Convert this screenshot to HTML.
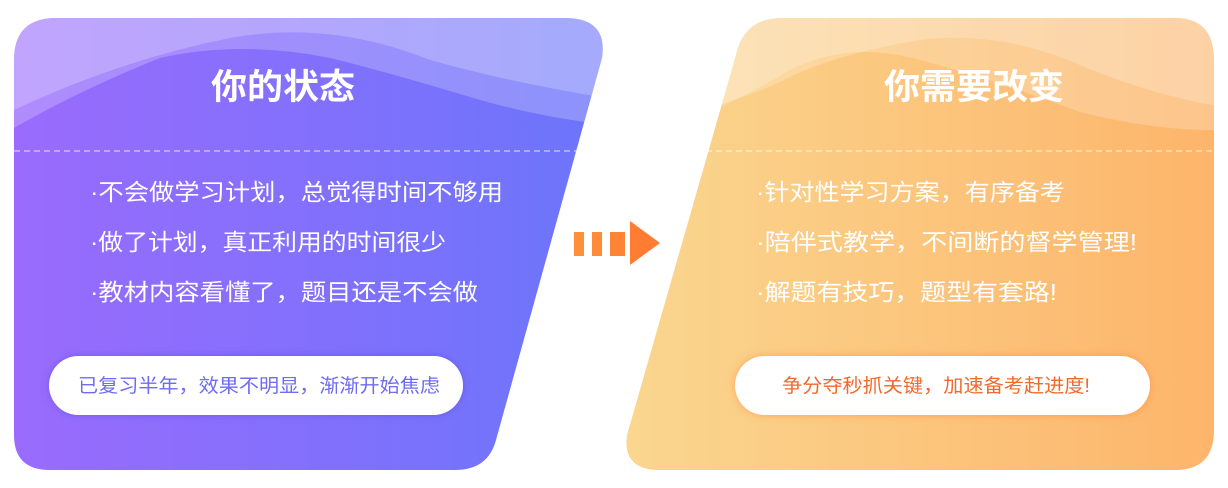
<!DOCTYPE html>
<html><head><meta charset="utf-8"><style>
html,body{margin:0;padding:0;background:#fff;width:1228px;height:488px;overflow:hidden;}
svg{display:block}
text{font-family:"Liberation Sans","Noto Sans CJK SC",sans-serif;}
</style></head><body>
<svg width="1228" height="488" viewBox="0 0 1228 488">
<defs>
<linearGradient id="gl" x1="0" x2="1" y1="0" y2="0"><stop offset="0" stop-color="#9b6bfd"/><stop offset="1" stop-color="#6a75fb"/></linearGradient>
<linearGradient id="gr" x1="0" x2="1" y1="0" y2="0"><stop offset="0" stop-color="#fad790"/><stop offset="1" stop-color="#fdb46a"/></linearGradient>
<clipPath id="cl"><path d="M14,60 Q14,18 56,18 L565,18 Q608,18 602,58 L496,440 Q488,470 455,470 L50,470 Q14,470 14,435 Z"/></clipPath>
<clipPath id="cr"><path d="M736,55 Q744,18 782,18 L1175,18 Q1214,18 1214,60 L1214,430 Q1214,470 1175,470 L660,470 Q622,470 627,435 Z"/></clipPath>
<filter id="sh" x="-10%" y="-30%" width="120%" height="160%"><feDropShadow dx="0" dy="0" stdDeviation="4" flood-color="#5b4de0" flood-opacity="0.6"/></filter>
<filter id="sh2" x="-10%" y="-30%" width="120%" height="160%"><feDropShadow dx="0" dy="0" stdDeviation="4" flood-color="#ff7a30" flood-opacity="0.5"/></filter>
</defs>
<g clip-path="url(#cl)">
<rect x="0" y="0" width="620" height="488" fill="url(#gl)"/>
<path d="M0,18 L620,18 L620,125 Q560,122 480,100 Q380,70 330,58 Q240,40 160,58 Q80,90 14,128 L0,130 Z" fill="#fff" opacity="0.22"/>
<path d="M0,18 L620,18 L620,100 Q520,85 430,60 Q330,20 230,38 Q120,60 14,110 L0,110 Z" fill="#fff" opacity="0.22"/>
</g>
<g clip-path="url(#cr)">
<rect x="610" y="0" width="618" height="488" fill="url(#gr)"/>
<path d="M700,18 L1228,18 L1228,130 Q1160,132 1080,112 Q980,75 920,60 Q850,40 790,70 Q740,100 700,115 Z" fill="#fff" opacity="0.22"/>
<path d="M700,18 L1228,18 L1228,108 Q1150,95 1080,65 Q1000,30 920,40 Q830,55 780,82 Q740,100 700,110 Z" fill="#fff" opacity="0.22"/>
</g>
<line x1="14" y1="151" x2="582" y2="151" stroke="#fff" stroke-opacity="0.8" stroke-dasharray="6,4" stroke-width="1"/>
<line x1="706" y1="151" x2="1214" y2="151" stroke="#fff" stroke-opacity="0.8" stroke-dasharray="6,4" stroke-width="1"/>
<text x="211" y="99" textLength="144" lengthAdjust="spacingAndGlyphs" font-size="35" font-weight="bold" fill="#fff">你的状态</text>
<text x="884" y="99" textLength="180" lengthAdjust="spacingAndGlyphs" font-size="35" font-weight="bold" fill="#fff">你需要改变</text>
<g font-size="23" fill="#fff">
<text x="90" y="200" textLength="413" lengthAdjust="spacingAndGlyphs">·不会做学习计划，总觉得时间不够用</text>
<text x="90" y="250" textLength="356" lengthAdjust="spacingAndGlyphs">·做了计划，真正利用的时间很少</text>
<text x="90" y="300" textLength="388" lengthAdjust="spacingAndGlyphs">·教材内容看懂了，题目还是不会做</text>
<text x="756" y="200" textLength="309" lengthAdjust="spacingAndGlyphs">·针对性学习方案，有序备考</text>
<text x="756" y="250" textLength="381" lengthAdjust="spacingAndGlyphs">·陪伴式教学，不间断的督学管理!</text>
<text x="756" y="300" textLength="301" lengthAdjust="spacingAndGlyphs">·解题有技巧，题型有套路!</text>
</g>
<rect x="49" y="356" width="414" height="59" rx="29.5" fill="#fff" filter="url(#sh)"/>
<text x="78" y="392" textLength="362" lengthAdjust="spacingAndGlyphs" font-size="19" fill="#6e6cf0">已复习半年，效果不明显，渐渐开始焦虑</text>
<rect x="735" y="356" width="415" height="59" rx="29.5" fill="#fff" filter="url(#sh2)"/>
<text x="782" y="392" textLength="308" lengthAdjust="spacingAndGlyphs" font-size="19" fill="#f06a2c">争分夺秒抓关键，加速备考赶进度!</text>
<rect x="574" y="232" width="10" height="24" fill="#ff8f3a"/>
<rect x="592" y="232" width="10" height="24" fill="#ff8a38"/>
<rect x="610" y="232" width="15" height="24" fill="#ff8536"/>
<polygon points="630,221 630,265 660,243" fill="#ff7d33"/>
</svg>
</body></html>
